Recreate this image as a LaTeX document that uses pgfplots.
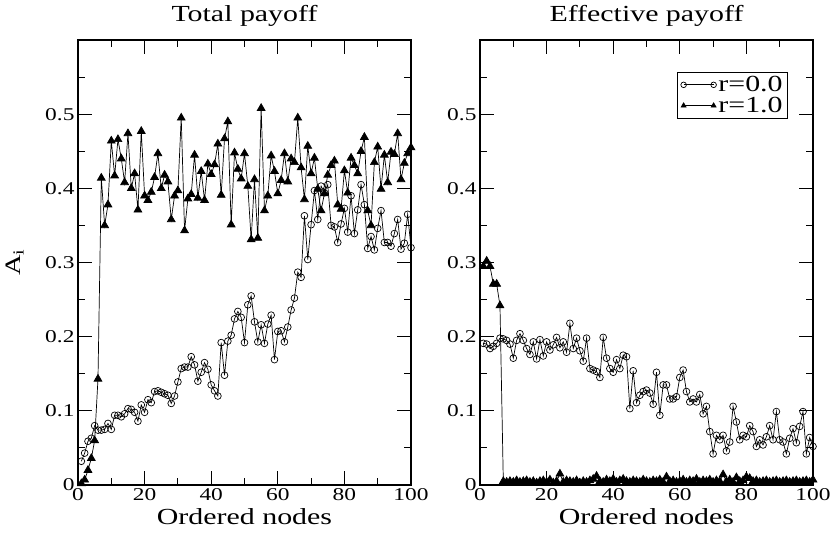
\documentclass[border=0pt]{standalone}
\usepackage{pgfplots}
\pgfplotsset{compat=1.18}
\usepackage{fontspec}
\setmainfont{Liberation Serif}[FakeStretch=1.3]

\pgfplotstableread{
n v
1 0.002
2 0.007
3 0.020
4 0.036
5 0.060
6 0.143
7 0.414
8 0.350
9 0.378
10 0.464
11 0.417
12 0.466
13 0.440
14 0.408
15 0.474
16 0.400
17 0.420
18 0.371
19 0.477
20 0.390
21 0.384
22 0.395
23 0.415
24 0.447
25 0.400
26 0.418
27 0.409
28 0.358
29 0.390
30 0.397
31 0.495
32 0.343
33 0.386
34 0.392
35 0.445
36 0.387
37 0.423
38 0.384
39 0.433
40 0.419
41 0.432
42 0.460
43 0.391
44 0.467
45 0.490
46 0.351
47 0.448
48 0.426
49 0.413
50 0.447
51 0.403
52 0.331
53 0.412
54 0.333
55 0.508
56 0.370
57 0.390
58 0.444
59 0.423
60 0.393
61 0.411
62 0.447
63 0.409
64 0.440
65 0.435
66 0.495
67 0.428
68 0.385
69 0.457
70 0.420
71 0.441
72 0.399
73 0.370
74 0.393
75 0.418
76 0.431
77 0.437
78 0.378
79 0.372
80 0.424
81 0.394
82 0.441
83 0.431
84 0.420
85 0.450
86 0.469
87 0.370
88 0.350
89 0.435
90 0.456
91 0.399
92 0.445
93 0.408
94 0.449
95 0.446
96 0.474
97 0.412
98 0.434
99 0.447
100 0.455
}\totalB

\pgfplotstableread{
n v
1 0.032
2 0.043
3 0.059
4 0.063
5 0.080
6 0.074
7 0.074
8 0.075
9 0.083
10 0.075
11 0.094
12 0.094
13 0.092
14 0.096
15 0.103
16 0.102
17 0.098
18 0.086
19 0.108
20 0.098
21 0.115
22 0.111
23 0.126
24 0.127
25 0.125
26 0.123
27 0.121
28 0.110
29 0.120
30 0.139
31 0.157
32 0.159
33 0.159
34 0.173
35 0.162
36 0.140
37 0.152
38 0.165
39 0.156
40 0.135
41 0.127
42 0.120
43 0.192
44 0.148
45 0.194
46 0.202
47 0.224
48 0.234
49 0.226
50 0.192
51 0.243
52 0.255
53 0.220
54 0.193
55 0.216
56 0.191
57 0.217
58 0.229
59 0.169
60 0.207
61 0.208
62 0.193
63 0.213
64 0.236
65 0.252
66 0.287
67 0.280
68 0.363
69 0.304
70 0.351
71 0.397
72 0.358
73 0.403
74 0.394
75 0.405
76 0.350
77 0.348
78 0.327
79 0.352
80 0.373
81 0.341
82 0.390
83 0.339
84 0.371
85 0.405
86 0.378
87 0.319
88 0.335
89 0.317
90 0.346
91 0.370
92 0.327
93 0.327
94 0.322
95 0.339
96 0.358
97 0.318
98 0.326
99 0.365
100 0.320
}\totalA

\pgfplotstableread{
n v
1 0.295
2 0.302
3 0.295
4 0.271
5 0.271
6 0.242
7 0.005
8 0.004
9 0.005
10 0.004
11 0.006
12 0.004
13 0.005
14 0.006
15 0.004
16 0.005
17 0.003
18 0.005
19 0.006
20 0.004
21 0.007
22 0.003
23 0.005
24 0.015
25 0.004
26 0.006
27 0.005
28 0.004
29 0.006
30 0.003
31 0.005
32 0.004
33 0.006
34 0.008
35 0.012
36 0.005
37 0.004
38 0.007
39 0.005
40 0.008
41 0.004
42 0.006
43 0.008
44 0.005
45 0.004
46 0.006
47 0.005
48 0.004
49 0.007
50 0.005
51 0.004
52 0.006
53 0.005
54 0.007
55 0.004
56 0.011
57 0.005
58 0.006
59 0.004
60 0.005
61 0.007
62 0.004
63 0.006
64 0.005
65 0.008
66 0.004
67 0.006
68 0.005
69 0.007
70 0.004
71 0.006
72 0.005
73 0.014
74 0.005
75 0.007
76 0.004
77 0.010
78 0.005
79 0.006
80 0.011
81 0.009
82 0.005
83 0.006
84 0.004
85 0.005
86 0.006
87 0.004
88 0.005
89 0.006
90 0.004
91 0.005
92 0.006
93 0.004
94 0.005
95 0.006
96 0.004
97 0.005
98 0.006
99 0.004
100 0.007
}\effB

\pgfplotstableread{
n v
1 0.191
2 0.190
3 0.184
4 0.187
5 0.191
6 0.198
7 0.197
8 0.195
9 0.190
10 0.171
11 0.195
12 0.204
13 0.195
14 0.184
15 0.176
16 0.193
17 0.170
18 0.196
19 0.174
20 0.193
21 0.182
22 0.189
23 0.199
24 0.185
25 0.193
26 0.179
27 0.218
28 0.184
29 0.198
30 0.181
31 0.167
32 0.198
33 0.157
34 0.155
35 0.153
36 0.145
37 0.199
38 0.171
39 0.157
40 0.152
41 0.169
42 0.157
43 0.175
44 0.173
45 0.103
46 0.154
47 0.111
48 0.121
49 0.126
50 0.128
51 0.124
52 0.109
53 0.152
54 0.094
55 0.135
56 0.135
57 0.116
58 0.116
59 0.119
60 0.145
61 0.155
62 0.126
63 0.112
64 0.116
65 0.112
66 0.122
67 0.096
68 0.106
69 0.072
70 0.042
71 0.067
72 0.061
73 0.067
74 0.046
75 0.058
76 0.106
77 0.085
78 0.061
79 0.067
80 0.065
81 0.080
82 0.072
83 0.052
84 0.061
85 0.054
86 0.065
87 0.080
88 0.061
89 0.099
90 0.061
91 0.058
92 0.042
93 0.063
94 0.076
95 0.057
96 0.079
97 0.099
98 0.042
99 0.064
100 0.052
}\effA

\pgfplotsset{
  panel/.style={
    scale only axis, width=333pt, height=445pt,
    xmin=0, xmax=100, ymin=0, ymax=0.6,
    xtick={0,20,40,60,80,100}, minor xtick={10,30,50,70,90},
    ytick={0,0.1,0.2,0.3,0.4,0.5}, minor ytick={0.05,0.15,0.25,0.35,0.45,0.55},
    tick align=inside, major tick length=14pt, minor tick length=7pt,
    axis line style={line width=1.2pt},
    every tick/.style={black, line width=1pt},
    /pgf/number format/assume math mode=true,
    ticklabel style={font=\fontsize{18}{18}\selectfont},
    xlabel={Ordered nodes},
    xlabel style={font=\fontsize{23}{23}\selectfont, yshift=-1pt},
    title style={font=\fontsize{23}{23}\selectfont, yshift=4pt},
  },
  circ/.style={black, line width=0.7pt, mark=o, mark size=3.4pt, mark options={solid, line width=0.7pt}},
  tri/.style={black, line width=0.7pt, mark=triangle*, mark size=4.5pt, mark options={solid}},
}

\begin{document}
\begin{tikzpicture}
\path[use as bounding box] (0,0) rectangle (831pt,539pt);
\begin{axis}[panel, at={(78pt,54pt)}, anchor=south west,
  title={Total payoff},
  ylabel={A\textsubscript{i}},
  ylabel style={at={(axis description cs:-0.19,0.5)}, anchor=center, font=\fontsize{22}{22}\selectfont},
]
\addplot[circ] table[x=n, y=v] {\totalA};
\addplot[tri] table[x=n, y=v] {\totalB};
\end{axis}
\begin{axis}[panel, at={(480pt,54pt)}, anchor=south west,
  title={Effective payoff},
  legend style={at={(0.925,0.928)}, anchor=north east, draw=black, line width=0.8pt,
    font=\fontsize{23}{24}\selectfont, inner xsep=3pt, inner ysep=2pt, row sep=0pt, cells={anchor=west}},
  legend image code/.code={\draw[#1, mark size=2.8pt] plot coordinates {(0pt,0pt) (30pt,0pt)};},
]
\addplot[circ] table[x=n, y=v] {\effA};
\addlegendentry{r=0.0}
\addplot[tri] table[x=n, y=v] {\effB};
\addlegendentry{r=1.0}
\end{axis}
\end{tikzpicture}
\end{document}
